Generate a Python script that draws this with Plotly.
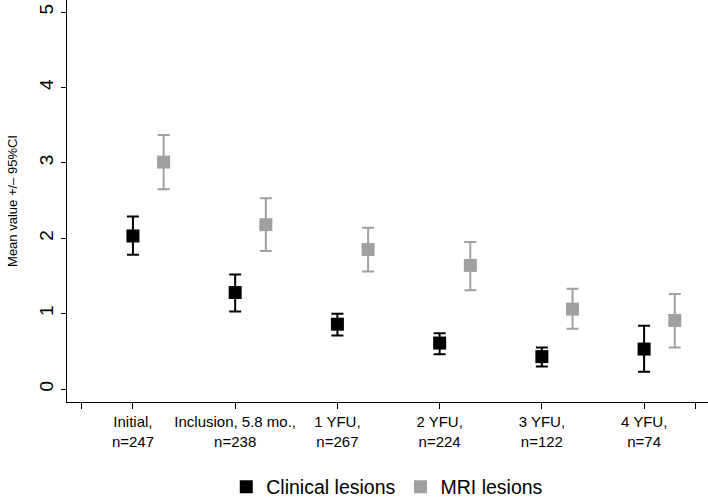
import plotly.graph_objs as go

categories = ['Initial,<br>n=247', 'Inclusion, 5.8 mo.,<br>n=238', '1 YFU,<br>n=267',
              '2 YFU,<br>n=224', '3 YFU,<br>n=122', '4 YFU,<br>n=74']
positions = [1, 2, 3, 4, 5, 6]

clinical_mean = [2.03, 1.28, 0.86, 0.61, 0.43, 0.53]
clinical_lo = [1.78, 1.03, 0.71, 0.46, 0.30, 0.23]
clinical_hi = [2.29, 1.52, 1.00, 0.74, 0.55, 0.84]

mri_mean = [3.01, 2.18, 1.85, 1.64, 1.06, 0.91]
mri_lo = [2.65, 1.83, 1.56, 1.31, 0.80, 0.55]
mri_hi = [3.37, 2.53, 2.14, 1.95, 1.33, 1.26]

MRI_SHIFT = 0.3
FONT = 'Liberation Sans, Arial, Helvetica, sans-serif'


def add_series(fig, x, mean, lo, hi, color, name):
    fig.add_trace(go.Scatter(
        x=x,
        y=mean,
        mode='markers',
        name=name,
        marker=dict(symbol='square', size=13, color=color),
        error_y=dict(
            type='data',
            symmetric=False,
            array=[h - m for h, m in zip(hi, mean)],
            arrayminus=[m - l for m, l in zip(mean, lo)],
            color=color,
            thickness=2,
            width=6
        )
    ))


fig = go.Figure()
add_series(fig, positions, clinical_mean, clinical_lo, clinical_hi, '#000000', 'Clinical lesions')
add_series(fig, [p + MRI_SHIFT for p in positions], mri_mean, mri_lo, mri_hi, '#a0a0a0', 'MRI lesions')

fig.update_layout(
    width=708,
    height=498,
    margin=dict(l=67, r=0, t=0, b=96),
    plot_bgcolor='white',
    paper_bgcolor='white',
    font=dict(family=FONT, color='#000000', size=14),
    showlegend=True,
    legend=dict(
        orientation='h',
        xanchor='center',
        x=0.547,
        xref='container',
        yanchor='middle',
        y=0.022,
        yref='container',
        font=dict(size=19.5),
        itemwidth=30
    ),
    xaxis=dict(
        range=[0.355, 6.625],
        tickvals=[0.5] + positions + [6.5],
        ticktext=[''] + categories + [''],
        ticks='outside',
        ticklen=6,
        tickcolor='#000000',
        showline=True,
        linecolor='#000000',
        linewidth=1,
        showgrid=False,
        zeroline=False,
        automargin=False,
        tickfont=dict(size=15)
    ),
    yaxis=dict(
        range=[-0.172, 5.16],
        tickvals=[0, 1, 2, 3, 4, 5],
        tickangle=-90,
        ticks='outside',
        ticklen=5,
        tickcolor='#000000',
        showline=True,
        linecolor='#000000',
        linewidth=1,
        showgrid=False,
        zeroline=False,
        automargin=False,
        tickfont=dict(size=19),
        title=dict(text='Mean value +/\u2013 95%CI', font=dict(size=13))
    )
)

# the page body has a default 8px margin; drop it so the chart sits at the origin
fig.write_html("out.html", config={'displayModeBar': False},
               post_script="document.body.style.margin='0';")
